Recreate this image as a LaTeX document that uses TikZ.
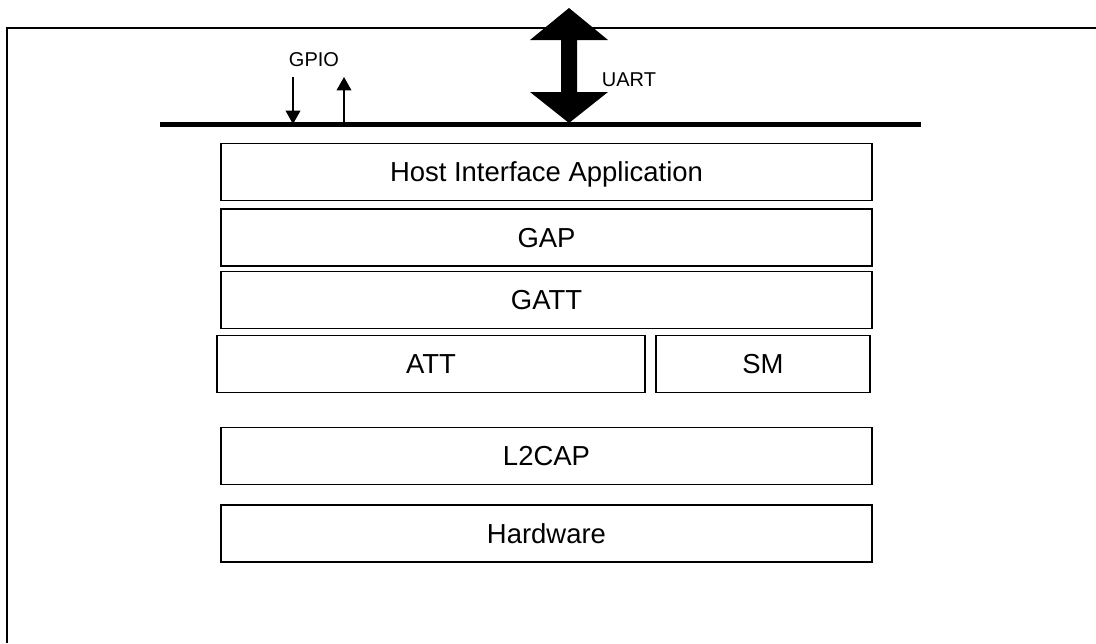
\documentclass[tikz,border=0pt]{standalone}
\usepackage{fontspec}
\setmainfont{Liberation Sans}
\usetikzlibrary{arrows.meta}
\tikzset{
  layer/.style={draw, line width=1.4pt, inner sep=0pt, minimum height=42.75pt,
    minimum width=#1, text depth=0pt, font=\fontsize{20.6}{24}\selectfont},
  layer/.default=488.25pt,
  lbl/.style={inner sep=0pt, font=\fontsize{15}{18}\selectfont},
}
\begin{document}
\begin{tikzpicture}[x=0.75pt, y=-0.75pt, >={Triangle[width=11pt,length=10pt]}]
\useasboundingbox (0,0) rectangle (1096,643);
% outer frame
\draw[line width=1.6pt](1096,28)--(7,28)--(7,643);

% bus
\coordinate (busL) at (160,124);
\coordinate (busR) at (921,124);
\draw[line width=3.75pt](busL)--(busR);

% GPIO
\node[lbl] (gpio) at (314,60){GPIO};
\coordinate (gin) at (293,77);
\coordinate (gout) at (344,124);
\draw[->, line width=1.1pt](gin)--(gin |- busR);
\draw[->, line width=1.1pt](gout)--(344,77);

% UART
\fill(569,8)--(608,40)--(577,40)--(577,92)--(608,92)--(569,123)
     --(530,92)--(561,92)--(561,40)--(530,40)--cycle;
\node[lbl] (uart) at (629,80){UART};

% stack
\node[layer] (hia) at (546.5,172){Host Interface Application};
\node[layer] (gap) at (546.5,237.5){GAP};
\node[layer] (gatt) at (546.5,300){GATT};
\node[layer=321pt] (att) at (431,364){ATT};
\node[layer=160.5pt] (sm) at (763,364){SM};
\node[layer] (l2cap) at (546.5,456){L2CAP};
\node[layer] (hw) at (546.5,533.5){Hardware};
\end{tikzpicture}
\end{document}
